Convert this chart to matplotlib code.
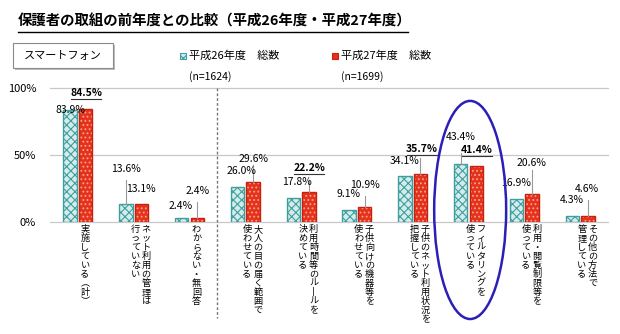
import matplotlib
matplotlib.use("Agg")
import matplotlib.pyplot as plt
from matplotlib.patches import Ellipse, Rectangle
from matplotlib.lines import Line2D
import numpy as np

plt.rcParams['font.family'] = ['Noto Sans CJK JP', 'DejaVu Sans']
plt.rcParams['hatch.linewidth'] = 0.8

# ---------------- data ----------------
title = "保護者の取組の前年度との比較（平成26年度・平成27年度）"
panel_label = "スマートフォン"
series_names = ["平成26年度　総数", "平成27年度　総数"]
series_n = ["(n=1624)", "(n=1699)"]
categories = [
    ["実施している（計）"],
    ["ネット利用の管理は", "行っていない"],
    ["わからない・無回答"],
    ["大人の目の届く範囲で", "使わせている"],
    ["利用時間等のルールを", "決めている"],
    ["子供向けの機器等を", "使わせている"],
    ["子供のネット利用状況を", "把握している"],
    ["フィルタリングを", "使っている"],
    ["利用・閲覧制限等を", "使っている"],
    ["その他の方法で", "管理している"],
]
h26 = [83.9, 13.6, 2.4, 26.0, 17.8, 9.1, 34.1, 43.4, 16.9, 4.3]
h27 = [84.5, 13.1, 2.4, 29.6, 22.2, 10.9, 35.7, 41.4, 20.6, 4.6]
h27_emphasis = [True, False, False, False, True, False, True, True, False, False]
yticks = [0, 50, 100]

# ---------------- layout (label placement) ----------------
# label offsets: (dx from category centre, y in %)
lab26 = [(-0.13, 83.7), (-0.14, 39.5), (-0.155, 11.8), (-0.066, 38.0), (-0.068, 29.8),
         (-0.152, 20.8), (-0.14, 45.5), (-0.135, 63.5), (-0.148, 29.0), (-0.157, 16.3)]
lab27 = [(0.15, 96.5), (0.13, 24.5), (0.148, 23.0), (0.15, 47.0), (0.147, 40.3),
         (0.153, 27.5), (0.166, 54.5), (0.152, 53.7), (0.121, 44.0), (0.13, 24.5)]
# leader lines: (series, top y in %) or None
leaders = [None, (0, 31.3), (1, 14.8), (1, 42.5), (1, 31.3),
           (1, 19.3), (1, 47.8), (0, 51.5), (1, 38.8), (1, 16.3)]

TEAL = "#3f9e9e"
TEAL_FACE = "#d4ecec"
RED = "#e5321c"
RED_EDGE = "#c8200f"
GRAY = "#c8c8c8"

fig = plt.figure(figsize=(6.2, 3.34), dpi=100)
ax = fig.add_axes([50/620, 1-221.7/334, 558/620, 133.4/334])
ax.set_xlim(-0.5, 9.5)
ax.set_ylim(0, 100)
for s in ax.spines.values():
    s.set_visible(False)
for t in yticks:
    ax.axhline(t, color=GRAY, lw=0.9, zorder=0, clip_on=False)
ax.set_yticks(yticks)
ax.set_yticklabels([f"{t}%" for t in yticks], fontsize=8)
ax.tick_params(axis='y', length=0, pad=10)
ax.set_xticks([])

x = np.arange(len(h26))
off = 0.139
w = 0.242
# teal bars
ax.bar(x - off, h26, w, facecolor=TEAL_FACE, edgecolor=TEAL, hatch='xxxx', lw=0, zorder=2)
ax.bar(x - off, h26, w, fill=False, edgecolor=TEAL, lw=1.0, zorder=3)
# red bars
ax.bar(x + off, h27, w, facecolor=RED, edgecolor="#f7a58f", hatch='....', lw=0, zorder=2)
ax.bar(x + off, h27, w, fill=False, edgecolor=RED_EDGE, lw=1.0, zorder=3)

# value labels
for i in range(len(h26)):
    dx, yy = lab26[i]
    ax.text(i + dx, yy, f"{h26[i]:.1f}%", ha='center', va='center', fontsize=7.5, zorder=5)
    dx, yy = lab27[i]
    if h27_emphasis[i]:
        ax.text(i + dx, yy, f"{h27[i]:.1f}%", ha='center', va='center', fontsize=7.5,
                fontweight='bold', zorder=5)
        ax.plot([i + dx - 0.27, i + dx + 0.27], [yy - 4.2, yy - 4.2], color='#333333',
                lw=0.8, zorder=5, clip_on=False)
    else:
        ax.text(i + dx, yy, f"{h27[i]:.1f}%", ha='center', va='center', fontsize=7.5, zorder=5)
    if leaders[i] is not None:
        sidx, top = leaders[i]
        xv = i - off if sidx == 0 else i + off
        val = h26[i] if sidx == 0 else h27[i]
        ax.plot([xv, xv], [val, top], color='#999999', lw=0.8, zorder=4)

# dashed separator
ax.plot([2.5, 2.5], [100, -72.5], color='#777777', lw=1.0, ls=(0, (2, 1.5)),
        clip_on=False, zorder=1)

# vertical category labels
vmap = {'ー': '丨', '（': '︵', '）': '︶'}
def vert(s):
    return "\n".join(vmap.get(c, c) for c in s)

for i, cols in enumerate(categories):
    if len(cols) == 1:
        xs = [i + 0.125]
    else:
        xs = [i + 0.225, i + 0.03]
    for xc, txt in zip(xs, cols):
        ax.text(xc, -2.3, vert(txt), ha='center', va='top', fontsize=6.6,
                linespacing=1.0, clip_on=False)

# highlight ellipse
ax.add_patch(Ellipse((7.03, 8.8), 1.29, 163.5, fill=False, edgecolor='#2b1fb8',
                     lw=1.8, clip_on=False, zorder=6))

# title
fig.text(18/620, 1-21/334, title, fontsize=10.4, fontweight='bold', ha='left', va='center')
fig.add_artist(Line2D([18/620, 408/620], [1-32/334, 1-32/334], color='black', lw=1.0))

# panel label box with shadow
fig.add_artist(Rectangle((15/620, 1-70/334), 100/620, 25/334, facecolor='#bdbdbd',
                         edgecolor='none'))
fig.add_artist(Rectangle((13/620, 1-68/334), 100/620, 25/334, facecolor='white',
                         edgecolor='#8a8a8a', lw=0.8))
fig.text(63/620, 1-55.5/334, panel_label, fontsize=8, ha='center', va='center')

# legend
leg_x = [183, 335]
for k in range(2):
    if k == 0:
        fig.add_artist(Rectangle(((leg_x[k]-3)/620, 1-59/334), 6/620, 6/334,
                                 facecolor=TEAL_FACE, edgecolor=TEAL, lw=0.8, hatch='xxxx'))
    else:
        fig.add_artist(Rectangle(((leg_x[k]-3)/620, 1-59/334), 6/620, 6/334,
                                 facecolor=RED, edgecolor=RED_EDGE, lw=0.8))
    fig.text((leg_x[k]+6)/620, 1-56/334, series_names[k], fontsize=8, ha='left', va='center')
    fig.text((leg_x[k]+6)/620, 1-77/334, series_n[k], fontsize=7.5, ha='left', va='center')

fig.savefig("out.png", dpi=100)
